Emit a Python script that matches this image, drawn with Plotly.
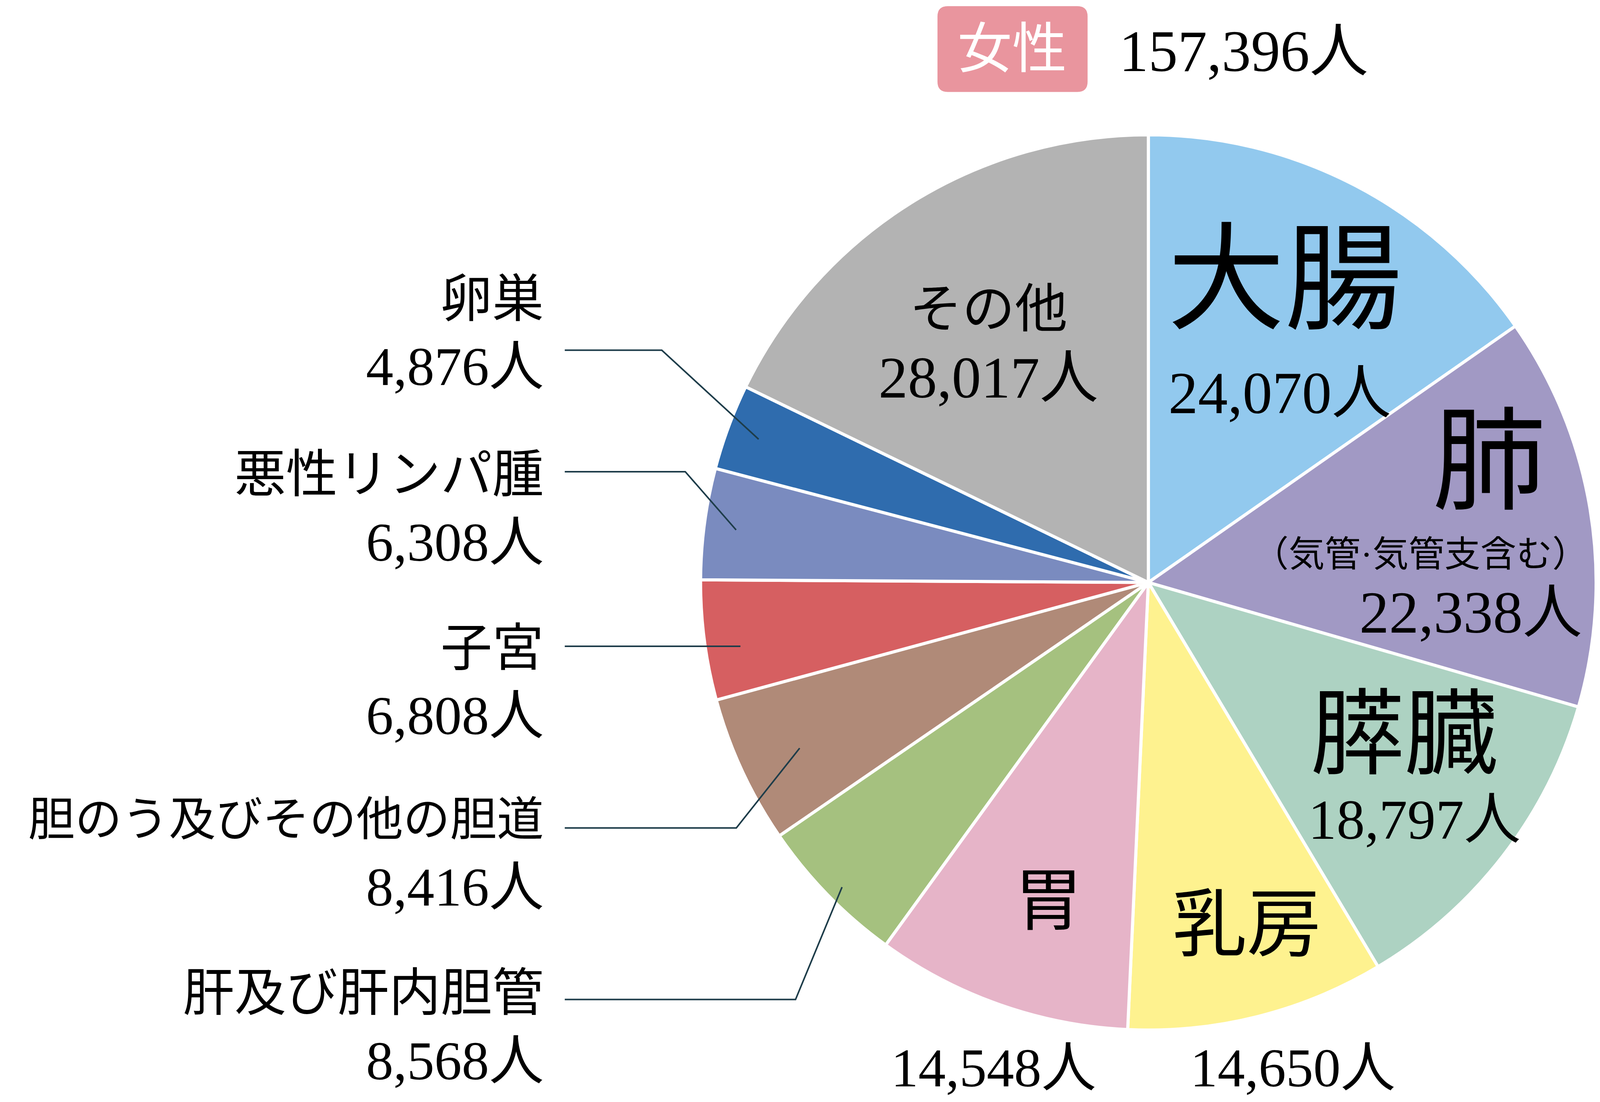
import math
import plotly.graph_objects as go

# data (clockwise from 12 o'clock)
sites = ['大腸', '肺', '膵臓', '乳房', '胃', '肝及び肝内胆管', '胆のう及びその他の胆道',
         '子宮', '悪性リンパ腫', '卵巣', 'その他']
counts = [24070, 22338, 18797, 14650, 14548, 8568, 8416, 6808, 6308, 4876, 28017]
colors = ['#92C9EE', '#A199C4', '#ADD2C2', '#FEF28F', '#E6B4C8', '#A5C17F', '#B08A78',
          '#D65F61', '#7A8BBF', '#2F6CAE', '#B3B3B3']
total_label = '女性'

W, H = 4099, 2822
S = W / 1568.0  # display -> full px
CX, CY, R = 1125 * S, 570 * S, 437 * S  # where the pie should land

FONT = 'Liberation Serif, Noto Sans CJK JP'


def px(xd):
    return xd / 1568.0


def py(yd):
    return 1 - yd * S / H


def fmt(n):
    return '{:,}人'.format(n)


# domain nudged a little so the drawn pie sits on CX, CY, R
dcx, dcy, dr = 1121.5 * S, 567.5 * S, 438.5 * S
fig = go.Figure()
fig.add_trace(go.Pie(
    labels=sites, values=counts, sort=False, direction='clockwise', rotation=0,
    marker=dict(colors=colors, line=dict(color='white', width=8)),
    textinfo='none', hoverinfo='label+value', showlegend=False,
    domain=dict(x=[(dcx - dr) / W, (dcx + dr) / W], y=[1 - (dcy + dr) / H, 1 - (dcy - dr) / H]),
))

annots = []


def txt(s, xd, yd, size, color='black', xanchor='center'):
    annots.append(dict(text=s, x=px(xd), y=py(yd), xref='paper', yref='paper',
                       xanchor=xanchor, yanchor='middle', showarrow=False,
                       font=dict(family=FONT, size=size, color=color)))


# big labels inside the pie
txt(sites[0], 1255, 272, 300)
txt(fmt(counts[0]), 1250, 382, 152)
txt(sites[1], 1455, 450, 290)
txt('（気管·気管支含む）', 1388, 540, 92)
txt(fmt(counts[1]), 1437, 597, 152)
txt(sites[2], 1372, 717, 240)
txt(fmt(counts[2]), 1382, 800, 145)
txt(sites[3], 1218, 903, 190)
txt(fmt(counts[3]), 1263, 1043, 140)
txt(sites[4], 1024, 880, 175)
txt(fmt(counts[4]), 970, 1043, 140)
txt(sites[10], 965, 300, 135)
txt(fmt(counts[10]), 965, 367, 150)

# left labels with leader lines
left_idx = [9, 8, 7, 6, 5]
name_y = [290, 462, 632, 800, 970]
name_size = [132, 132, 132, 120, 132]
line_y = [340, 459, 630, 808, 976]
elbow_x = [645, 668, None, 718, 776]
tip_r = [0.94, 0.94, 0.93, 0.87, 0.97]

cum = [sum(counts[:i]) for i in range(len(counts))]
tot = sum(counts)
shapes = []
for k, i in enumerate(left_idx):
    txt(sites[i], 530, name_y[k], name_size[k], xanchor='right')
    txt(fmt(counts[i]), 530, name_y[k] + 66, 140, xanchor='right')
    ang = 2 * math.pi * (cum[i] + counts[i] / 2) / tot
    tx = CX + tip_r[k] * R * math.sin(ang)
    ty = CY - tip_r[k] * R * math.cos(ang)
    pts = [(px(550), py(line_y[k]))]
    if elbow_x[k] is not None:
        pts.append((px(elbow_x[k]), py(line_y[k])))
        pts.append((tx / W, 1 - ty / H))
    else:
        pts.append((tx / W, py(line_y[k])))
    path = 'M ' + ' L '.join('{:.5f},{:.5f}'.format(a, b) for a, b in pts)
    shapes.append(dict(type='path', path=path, xref='paper', yref='paper',
                       line=dict(color='#1E3D4A', width=4)))

# header badge
x0, x1, y0, y1 = px(915), px(1062), py(87), py(3)
rx, ry = px(10), 10 * S / H
badge = ('M {a},{b} L {c},{b} Q {d},{b} {d},{e} L {d},{f} Q {d},{g} {c},{g} '
         'L {a},{g} Q {h},{g} {h},{f} L {h},{e} Q {h},{b} {a},{b} Z').format(
    a=x0 + rx, b=y0, c=x1 - rx, d=x1, e=y0 + ry, f=y1 - ry, g=y1, h=x0)
shapes.append(dict(type='path', path=badge, xref='paper', yref='paper',
                   fillcolor='#E9959E', line=dict(width=0)))
txt(total_label, 988, 45, 140, color='white')
txt(fmt(tot), 1215, 47, 150)

fig.update_layout(
    width=W, height=H,
    margin=dict(l=0, r=0, t=0, b=0),
    paper_bgcolor='white', plot_bgcolor='white',
    annotations=annots, shapes=shapes,
)
fig.write_html('out.html')
